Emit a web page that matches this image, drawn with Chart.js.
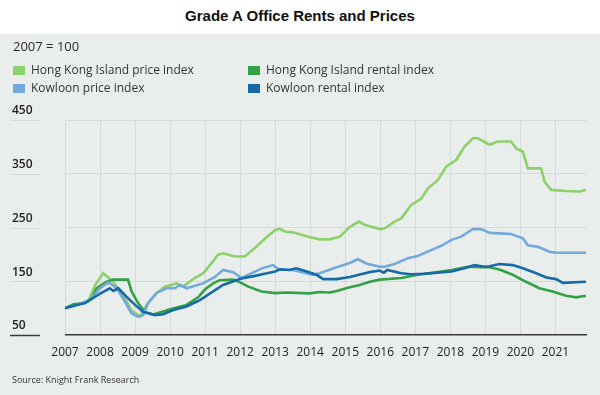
<!DOCTYPE html>
<html>
<head>
<meta charset="utf-8">
<script src="https://cdn.jsdelivr.net/npm/chart.js@4"></script>
<style>
  body { margin: 0; width: 600px; height: 395px; position: relative; overflow: hidden; background: #fff; font-family: 'Open Sans', sans-serif; }
  #title { position: absolute; top: 7px; left: 0; width: 600px; text-align: center; font: bold 15px 'Liberation Sans', Arial, sans-serif; color: #111; }
  #panel { position: absolute; top: 34px; left: 0; width: 600px; height: 361px; background: #e9eeec; }
  #chart { position: absolute; left: 0; top: 0; }
  .txt { position: absolute; color: #2a2a2a; white-space: nowrap; }
  .leg { position: absolute; font-size: 12px; color: #333; white-space: nowrap; }
  .leg span { display: inline-block; width: 12px; height: 9px; margin-right: 6px; vertical-align: -1px; }
</style>
</head>
<body>
<div id="title">Grade A Office Rents and Prices</div>
<div id="panel"></div>
<canvas id="chart" width="600" height="395"></canvas>
<div class="txt" style="left:13px;top:37px;font-size:13px;">2007 = 100</div>
<div id="legend"></div>
<div class="txt" style="left:12px;top:373px;font-size:9px;color:#333;">Source: Knight Frank Research</div>

<script>
// series names / colours
const seriesNames = ['Hong Kong Island price index', 'Hong Kong Island rental index', 'Kowloon price index', 'Kowloon rental index'];
const seriesColors = ['#8dd16b', '#33a245', '#74a9df', '#166aa6'];

const yearTicks = [2007, 2008, 2009, 2010, 2011, 2012, 2013, 2014, 2015, 2016, 2017, 2018, 2019, 2020, 2021];
const valueTicks = [50, 150, 250, 350, 450];

// Hong Kong Island price index
const hkPriceX = [2007.0, 2007.33, 2007.66, 2007.86, 2008.09, 2008.38, 2008.66, 2008.9, 2009.14, 2009.33, 2009.61, 2009.85,
  2010.18, 2010.37, 2010.7, 2010.95, 2011.2, 2011.36, 2011.5, 2011.85, 2012.13, 2012.42, 2012.75, 2013.0, 2013.13, 2013.3,
  2013.5, 2014.0, 2014.27, 2014.56, 2014.84, 2015.13, 2015.39, 2015.55, 2015.98, 2016.12, 2016.41, 2016.6, 2016.88, 2017.17,
  2017.36, 2017.64, 2017.88, 2018.17, 2018.4, 2018.64, 2018.78, 2019.12, 2019.35, 2019.73, 2019.88, 2020.07, 2020.21, 2020.59,
  2020.69, 2020.88, 2021.3, 2021.69, 2021.87];
const hkPrice = [100, 107, 112, 143, 165, 149, 124, 96, 84, 106, 128, 140,
  146, 140, 156, 165, 185, 199, 202, 196, 196, 212, 232, 245, 248, 242,
  241, 232, 228, 228, 233, 251, 261, 255, 247, 248, 261, 267, 292, 304,
  323, 338, 363, 376, 400, 416, 416, 404, 410, 410, 397, 391, 360, 360,
  335, 320, 318, 317, 320];

// Hong Kong Island rental index
const hkRentX = [2007.0, 2007.24, 2007.52, 2007.76, 2007.9, 2008.19, 2008.38, 2008.8, 2008.9, 2009.09, 2009.28, 2009.52,
  2010.0, 2010.47, 2010.8, 2011.0, 2011.25, 2011.42, 2011.8, 2012.0, 2012.23, 2012.61, 2013.0, 2013.3, 2013.99, 2014.27,
  2014.56, 2014.75, 2015.13, 2015.41, 2015.7, 2015.98, 2016.6, 2017.07, 2017.55, 2018.03, 2018.5, 2018.88, 2019.12, 2019.4,
  2019.78, 2020.16, 2020.54, 2020.92, 2021.3, 2021.59, 2021.87];
const hkRent = [100, 107, 109, 118, 137, 149, 153, 153, 131, 109, 93, 88,
  98, 106, 120, 135, 147, 152, 153, 148, 140, 131, 128, 129, 127.5, 130,
  129, 132, 139, 143, 149, 153, 156, 162, 166, 171, 177, 176, 176, 172,
  162, 149, 137, 131, 123, 120, 123];

// Kowloon price index
const klnPriceX = [2007.0, 2007.33, 2007.71, 2008.0, 2008.24, 2008.48, 2008.71, 2008.9, 2009.09, 2009.23, 2009.37, 2009.61,
  2009.9, 2010.14, 2010.28, 2010.47, 2010.94, 2011.28, 2011.51, 2011.8, 2012.04, 2012.33, 2012.62, 2012.94, 2013.1, 2013.5,
  2014.08, 2014.27, 2014.75, 2015.13, 2015.36, 2015.6, 2015.98, 2016.12, 2016.41, 2016.79, 2017.07, 2017.45, 2017.74, 2018.03,
  2018.31, 2018.64, 2018.88, 2019.12, 2019.4, 2019.73, 2020.07, 2020.21, 2020.5, 2020.83, 2021.02, 2021.87];
const klnPrice = [100, 106, 115, 137, 148, 137, 112, 90, 84, 87, 109, 128,
  137, 137, 143, 137, 146, 158, 171, 167, 156, 165, 174, 180, 172, 171,
  162, 165, 176, 184, 191, 183, 177, 177, 182, 193, 197, 208, 216, 227,
  233, 247, 247, 240, 239, 238, 230, 217, 214, 205, 203, 203];

// Kowloon rental index
const klnRentX = [2007.0, 2007.33, 2007.56, 2008.0, 2008.28, 2008.38, 2008.52, 2008.76, 2009.0, 2009.23, 2009.57, 2009.8,
  2010.09, 2010.47, 2010.85, 2011.23, 2011.51, 2011.89, 2012.04, 2012.42, 2012.7, 2013.0, 2013.13, 2013.4, 2013.6, 2013.9,
  2014.18, 2014.37, 2014.75, 2015.13, 2015.5, 2015.7, 2015.98, 2016.1, 2016.2, 2016.6, 2016.88, 2017.24, 2017.64, 2018.03,
  2018.4, 2018.69, 2018.98, 2019.12, 2019.4, 2019.78, 2020.07, 2020.45, 2020.74, 2021.02, 2021.21, 2021.87];
const klnRent = [100, 106, 109, 127, 137, 132, 137, 121, 106, 93, 87, 88.5,
  96.5, 103, 115, 131, 143, 152, 155, 160, 164, 168, 172, 171, 174, 168,
  162, 154, 154, 158, 164, 167, 170, 166, 171, 165, 163, 164, 166, 168,
  174, 180, 177, 178, 182, 180, 174, 165, 157, 154, 147, 149];

const seriesX = [hkPriceX, hkRentX, klnPriceX, klnRentX];
const seriesY = [hkPrice, hkRent, klnPrice, klnRent];

// legend (two columns)
const legend = document.getElementById('legend');
const legPos = [[13, 61], [248, 61], [13, 79], [248, 79]];
const legOrder = [0, 1, 2, 3];
legOrder.forEach((s, i) => {
  const d = document.createElement('div');
  d.className = 'leg';
  d.style.left = legPos[i][0] + 'px';
  d.style.top = legPos[i][1] + 'px';
  d.innerHTML = '<span style="background:' + seriesColors[s] + '"></span>' + seriesNames[s];
  legend.appendChild(d);
});

const gridColor = '#d5dbd9';
const axisColor = '#3a3a3a';

// short rules under the y labels
const yLabelRules = {
  id: 'yLabelRules',
  afterDraw(chart) {
    const ctx = chart.ctx;
    const y = chart.scales.y;
    ctx.save();
    valueTicks.forEach(v => {
      const py = Math.round(y.getPixelForValue(v)) + 0.5;
      ctx.strokeStyle = v === 50 ? axisColor : gridColor;
      ctx.lineWidth = v === 50 ? 1.5 : 1;
      ctx.beginPath();
      ctx.moveTo(10, py);
      ctx.lineTo(40, py);
      ctx.stroke();
    });
    ctx.restore();
  }
};

Chart.defaults.font.family = "'Open Sans', sans-serif";
Chart.defaults.color = '#222';

new Chart(document.getElementById('chart'), {
  type: 'line',
  data: {
    datasets: seriesNames.map((name, i) => ({
      label: name,
      data: seriesX[i].map((x, j) => ({ x: x, y: seriesY[i][j] })),
      borderColor: seriesColors[i],
      borderWidth: 2.6,
      pointRadius: 0,
      tension: 0,
      fill: false,
      order: [3, 2, 1, 0][i]
    }))
  },
  options: {
    responsive: false,
    animation: false,
    layout: { padding: { left: 12, right: 13, top: 120, bottom: 30 } },
    plugins: { legend: { display: false }, tooltip: { enabled: false } },
    scales: {
      x: {
        type: 'linear',
        min: 2007,
        max: 2021.9,
        afterBuildTicks: s => { s.ticks = yearTicks.map(v => ({ value: v })); },
        afterFit: s => { s.height = 30; },
        ticks: {
          autoSkip: false,
          maxRotation: 0,
          padding: 10,
          font: { size: 12 },
          color: '#222',
          callback: v => String(v)
        },
        grid: { color: gridColor, lineWidth: 1, drawTicks: false },
        border: { display: false }
      },
      y: {
        min: 50,
        max: 450,
        afterBuildTicks: s => { s.ticks = valueTicks.map(v => ({ value: v })); },
        afterFit: s => { s.width = 53; },
        ticks: {
          crossAlign: 'far',
          labelOffset: -9,
          font: { size: 12, weight: '600' },
          color: '#222'
        },
        grid: {
          color: c => c.tick && c.tick.value === 50 ? axisColor : gridColor,
          lineWidth: c => c.tick && c.tick.value === 50 ? 1.5 : 1,
          drawTicks: false
        },
        border: { display: false }
      }
    }
  },
  plugins: [yLabelRules]
});
</script>
</body>
</html>
